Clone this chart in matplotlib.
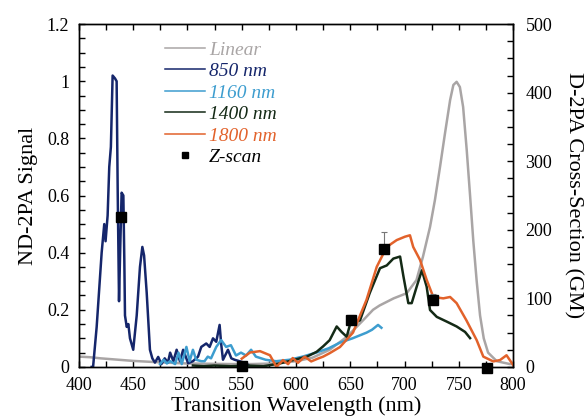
import numpy as np
import matplotlib
matplotlib.use("Agg")
import matplotlib.pyplot as plt
from matplotlib.ticker import MultipleLocator
from matplotlib.lines import Line2D

plt.rcParams['font.family'] = ['Liberation Serif', 'DejaVu Serif']

# Linear absorption (normalized, left axis)
lin_wl = [400, 410, 420, 430, 440, 450, 465, 480, 500, 520, 540, 560, 580, 600, 615, 631,
          647, 662, 671, 677, 690, 702, 711, 717, 723.5, 728, 732.7, 737.3, 742, 745,
          748, 751, 754, 757.3, 760.4, 763.4, 766.5, 769.6, 773, 777, 785, 797, 800]
lin_val = [0.036, 0.034, 0.03, 0.027, 0.024, 0.021, 0.018, 0.015, 0.012, 0.011, 0.01, 0.01,
           0.012, 0.02, 0.032, 0.06, 0.106, 0.164, 0.2, 0.215, 0.24, 0.258, 0.304, 0.386,
           0.49, 0.584, 0.70, 0.818, 0.934, 0.987, 0.998, 0.98, 0.91, 0.76, 0.6, 0.44,
           0.3, 0.18, 0.1, 0.05, 0.02, 0.01, 0.01]

# 850 nm ND-2PA (left axis)
wl_850 = [411.7, 413, 416.3, 420.9, 423.3, 424.5, 426.4, 427.9, 429.4, 431, 433.2, 434.7,
          435.7, 436.9, 438.1, 439.3, 440.9, 441.8, 442.4, 444, 445.5, 447, 450, 453.2,
          456.2, 458.4, 460, 462.4, 465.4, 467.6, 470, 473, 476, 479, 482, 484, 487, 490,
          493, 496, 500.6, 505, 509.7, 512.7, 517.3, 520.4, 523.5, 526.5, 529.6, 531,
          532.7, 537.3, 540.4, 543.5, 548, 554, 558]
val_850 = [0.0, 0.0, 0.14, 0.40, 0.50, 0.44, 0.53, 0.70, 0.77, 1.02, 1.01, 1.0,
           0.61, 0.23, 0.43, 0.61, 0.60, 0.37, 0.18, 0.14, 0.15, 0.10, 0.06, 0.18,
           0.35, 0.42, 0.39, 0.26, 0.06, 0.03, 0.015, 0.035, 0.01, 0.03, 0.015, 0.05, 0.02, 0.06,
           0.02, 0.06, 0.013, 0.02, 0.036, 0.07, 0.082, 0.07, 0.10, 0.088, 0.147, 0.082,
           0.025, 0.06, 0.03, 0.025, 0.02, 0.013, 0.0]

# 1160 nm ND-2PA (left axis)
wl_1160 = [474.7, 478, 481, 484, 488.6, 491.7, 494.7, 499, 502, 505, 508, 512.7, 515.7,
           518.7, 521.7, 526.5, 531, 535.6, 540, 544.7, 549.3, 554, 558.6, 563, 572,
           581.6, 593.9, 606, 618.5, 630, 640.5, 652, 665, 670, 675.6, 678.7]
val_1160 = [0.01, 0.025, 0.012, 0.02, 0.01, 0.05, 0.01, 0.07, 0.02, 0.06, 0.025, 0.02, 0.02,
            0.036, 0.03, 0.07, 0.094, 0.07, 0.076, 0.04, 0.05, 0.04, 0.06, 0.036, 0.025,
            0.02, 0.025, 0.036, 0.05, 0.065, 0.085, 0.1, 0.12, 0.13, 0.147, 0.137]

# 1400 nm D-2PA (right axis, GM)
wl_1400 = [505, 515, 525, 540, 555, 570, 585, 597.5, 610, 619, 625, 631, 637.5, 642,
           646.7, 649.8, 659, 668, 677.4, 683.6, 689.7, 695.9, 699, 703.5, 706.6, 711.2,
           716, 720.4, 723.5, 729.7, 739, 748, 755.8, 760.4]
val_1400 = [2, 1, 2, 1, 2, 1, 5, 10, 15, 22, 30, 39, 59, 51, 44, 62, 68, 108, 144, 148,
            158, 161, 132, 93, 93, 117, 141, 117, 83, 73, 66, 59, 51, 42]

# 1800 nm D-2PA (right axis, GM)
wl_1800 = [550, 557.6, 566.8, 576, 582, 588, 592.7, 597, 601.8, 608, 614, 620, 625, 631,
           640.5, 652.5, 665, 674.4, 683.6, 692.8, 700.5, 705, 708, 714.3, 720.4, 726.5,
           735.7, 742, 748, 757, 766.5, 772.6, 781.8, 788, 794, 800]
val_1800 = [12, 21, 23, 17, 0, 10, 4, 13, 6, 15, 8, 12, 15, 20, 29, 50, 98, 146, 175,
            185, 190, 192, 175, 156, 127, 102, 100, 102, 93, 68, 39, 15, 8, 10, 17, 3]

# Z-scan D-2PA cross-sections (right axis, GM)
zs_wl = [439, 550, 651, 681, 726, 776]
zs_val = [219, 2, 68, 172, 98, -2]
zs_err = [0, 0, 8, 25, 8, 0]

legend_labels = ['Linear', '850 nm', '1160 nm', '1400 nm', '1800 nm', 'Z-scan']

fig = plt.figure(figsize=(5.85, 4.16), dpi=100)
ax = fig.add_axes([0.135, 0.118, 0.742, 0.824])
ax2 = ax.twinx()

c_lin = '#a9a5a5'
c_850 = '#15266b'
c_1160 = '#3d9dcf'
c_1400 = '#142a16'
c_1800 = '#e2622b'
colors = [c_lin, c_850, c_1160, c_1400, c_1800]

ax.plot(lin_wl, lin_val, color=c_lin, lw=1.8)
ax.plot(wl_850, val_850, color=c_850, lw=1.8)
ax.plot(wl_1160, val_1160, color=c_1160, lw=1.8)
ax2.plot(wl_1400, val_1400, color=c_1400, lw=1.8)
ax2.plot(wl_1800, val_1800, color=c_1800, lw=1.8)
ax2.errorbar(zs_wl, zs_val, yerr=[np.zeros(len(zs_err)), zs_err], fmt='none',
             ecolor='#777777', elinewidth=0.8, capsize=2.5, capthick=0.8, zorder=4)
ax2.plot(zs_wl, zs_val, 's', color='black', ms=6.5, zorder=5, clip_on=False)

ax.set_xlim(400, 800)
ax.set_ylim(0, 1.2)
ax2.set_ylim(0, 500)

ax.xaxis.set_major_locator(MultipleLocator(50))
ax.xaxis.set_minor_locator(MultipleLocator(25))
ax.yaxis.set_minor_locator(MultipleLocator(0.05))
ax2.yaxis.set_major_locator(MultipleLocator(100))
ax2.yaxis.set_minor_locator(MultipleLocator(25))
ax.set_yticks([0, 0.2, 0.4, 0.6, 0.8, 1.0, 1.2])
ax.set_yticklabels(['0', '0.2', '0.4', '0.6', '0.8', '1', '1.2'])

ax.tick_params(axis='x', which='both', direction='in', top=True, length=4, width=1,
               labelsize=13, pad=7)
ax.tick_params(axis='y', which='both', direction='in', right=False, length=4, width=1,
               labelsize=13, pad=7)
ax2.tick_params(axis='y', which='both', direction='in', length=4, width=1, labelsize=13,
                pad=9)

for a in (ax, ax2):
    for s in a.spines.values():
        s.set_linewidth(1.0)

ax.set_xlabel('Transition Wavelength (nm)', fontsize=16, labelpad=2)
ax.set_ylabel('ND-2PA Signal', fontsize=16, labelpad=6)
ax2.set_ylabel('D-2PA Cross-Section (GM)', fontsize=16, rotation=270, labelpad=22)

# thin proxy handles for the legend
handles = [Line2D([], [], color=c, lw=1.1) for c in colors]
handles.append(Line2D([], [], ls='none', marker='s', color='black', ms=5))
leg = ax2.legend(handles, legend_labels,
                 loc='upper left', bbox_to_anchor=(0.167, 0.99), frameon=False,
                 prop={'style': 'italic', 'size': 14}, handlelength=2.05,
                 handletextpad=0.2, labelspacing=0.2, borderaxespad=0.3)
for txt, col in zip(leg.get_texts(), colors + ['black']):
    txt.set_color(col)

fig.savefig('out.png', dpi=100)
